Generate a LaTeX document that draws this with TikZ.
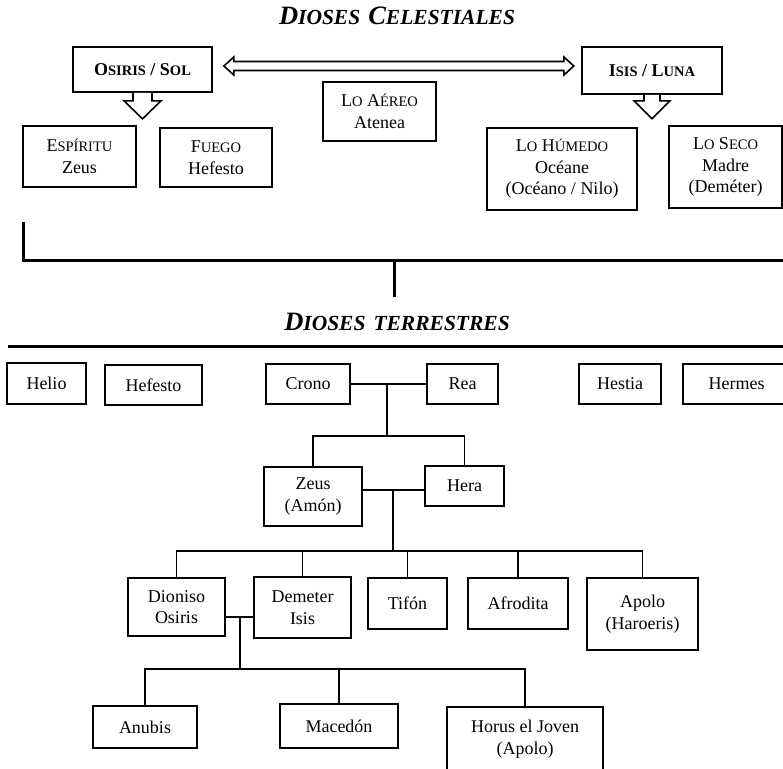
\documentclass[tikz,border=0pt]{standalone}
\usepackage{fontspec}
\setmainfont{Liberation Serif}
\usetikzlibrary{calc}
\newcommand\msc[2]{#1{\fontsize{14.5}{21}\selectfont #2}}
\newcommand\tbig[1]{{\fontsize{26.5}{26}\selectfont #1}}
\newcommand\tsml[1]{{\fontsize{21.5}{26}\selectfont #1}}
\newcommand\bx[6]{\node[box,minimum width=#4pt,minimum height=#5pt] (#1) at (#2,#3) {#6};}
\begin{document}
\begin{tikzpicture}[x=1pt,y=-1pt,
  box/.style={draw, line width=1.7pt, align=center, inner sep=0pt, fill=white,
    font=\fontsize{18}{21.5}\selectfont},
  conn/.style={line width=1.3pt},
  heavy/.style={line width=3pt},
  barrow/.style={draw, line width=1.6pt, fill=white, line join=miter},
  ttlstyle/.style={font=\bfseries\itshape, inner sep=0pt}]
\useasboundingbox (0,0) rectangle (783,768);

% titles
\node[ttlstyle] (t1) at (397,16) {\tbig{D}\tsml{IOSES}\hspace{8pt}\tbig{C}\tsml{ELESTIALES}};
\node[ttlstyle] (t2) at (397,322) {\tbig{D}\tsml{IOSES}\hspace{8pt}\tsml{TERRESTRES}};

% celestial boxes
\bx{osiris}{142.5}{69.5}{139}{45}{\bfseries\msc{O}{SIRIS} / \msc{S}{OL}}
\bx{isis}{652}{70.5}{140}{47}{\bfseries\msc{I}{SIS} / \msc{L}{UNA}}
\bx{espiritu}{79.5}{156.5}{113}{61}{\msc{E}{SPÍRITU}\\Zeus}
\bx{fuego}{216}{157.5}{112}{59}{\msc{F}{UEGO}\\Hefesto}
\bx{aereo}{379.5}{111.5}{113}{59}{\msc{L}{O} \msc{A}{ÉREO}\\Atenea}
\bx{humedo}{562}{169}{150}{82}{\msc{L}{O} \msc{H}{ÚMEDO}\\Océane\\(Océano / Nilo)}
\bx{seco}{725.5}{167}{113}{82}{\msc{L}{O} \msc{S}{ECO}\\Madre\\(Deméter)}

% block arrows
\path[barrow] ([xshift=-9.5pt]osiris.south) -- ++(0,8) -- ++(-9,0) -- ++(18.5,18)
  -- ++(18.5,-18) -- ++(-9,0) -- ++(0,-8);
\path[barrow] ([xshift=-8pt]isis.south) -- ++(0,6) -- ++(-10,0) -- ++(18,18)
  -- ++(18,-18) -- ++(-10,0) -- ++(0,-6);
\path[barrow] ([shift={(11pt,3.5pt)}]osiris.east) -- ++(10,-9) -- ++(0,4.5) -- ++(330,0)
  -- ++(0,-4.5) -- ++(10,9) -- ++(-10,9) -- ++(0,-4.5) -- ++(-330,0) -- ++(0,4.5) -- cycle;

% bracket and rule
\coordinate (bl) at (23,222);
\coordinate (bc) at (23,260);
\coordinate (br) at (790,260);
\coordinate (bm) at (394,260);
\coordinate (bd) at (394,297);
\draw[heavy] (bl) -- (bc) -- (br);
\draw[heavy] (bm) -- (bd);
\coordinate (rl) at (8,346);
\coordinate (rr) at (790,346);
\draw[heavy] (rl) -- (rr);

% terrestrial boxes
\bx{helio}{46.5}{383.5}{79}{41}{Helio}
\bx{hefesto}{153.5}{385}{97}{40}{Hefesto}
\bx{crono}{308}{384}{84}{40}{Crono}
\bx{rea}{462.5}{384}{71}{40}{Rea}
\bx{hestia}{620}{384}{82}{40}{Hestia}
\bx{hermes}{736.5}{384}{107}{40}{Hermes}
\bx{zeus}{313}{496.5}{98}{59}{Zeus\\(Amón)}
\bx{hera}{464.5}{486}{79}{40}{Hera}
\bx{dioniso}{176.5}{607}{97}{58}{Dioniso\\Osiris}
\bx{demeter}{302.5}{607.5}{97}{61}{Demeter\\Isis}
\bx{tifon}{407.5}{603.5}{79}{51}{Tifón}
\bx{afrodita}{518}{603.5}{100}{51}{Afrodita}
\bx{apolo}{642.5}{614}{111}{72}{Apolo\\(Haroeris)}
\bx{anubis}{145}{727}{104}{42}{Anubis}
\bx{macedon}{339}{726}{118}{44}{Macedón}
\bx{horus}{525}{739}{156}{64}{Horus el Joven\\(Apolo)}

% family connectors
\coordinate (m1) at (387,384);
\coordinate (b1) at (387,436);
\draw[conn] (crono.east) -- (rea.west);
\draw[conn] (m1) -- (b1);
\draw[conn] (zeus.north) |- (b1) -| (hera.north);

\coordinate (m2) at (393,490);
\coordinate (b2) at (393,551);
\draw[conn] (zeus.east |- m2) -- (hera.west |- m2);
\draw[conn] (m2) -- (b2);
\draw[conn] (dioniso.north) |- (b2) -| (apolo.north);
\draw[conn] (demeter.north) -- (demeter.north |- b2);
\draw[conn] (tifon.north) -- (tifon.north |- b2);
\draw[conn] (afrodita.north) -- (afrodita.north |- b2);

\coordinate (m3) at (240,617);
\coordinate (b3) at (240,669);
\draw[conn] (dioniso.east |- m3) -- (demeter.west |- m3);
\draw[conn] (m3) -- (b3);
\draw[conn] (anubis.north) |- (b3) -| (horus.north);
\draw[conn] (macedon.north) -- (macedon.north |- b3);
\end{tikzpicture}
\end{document}
